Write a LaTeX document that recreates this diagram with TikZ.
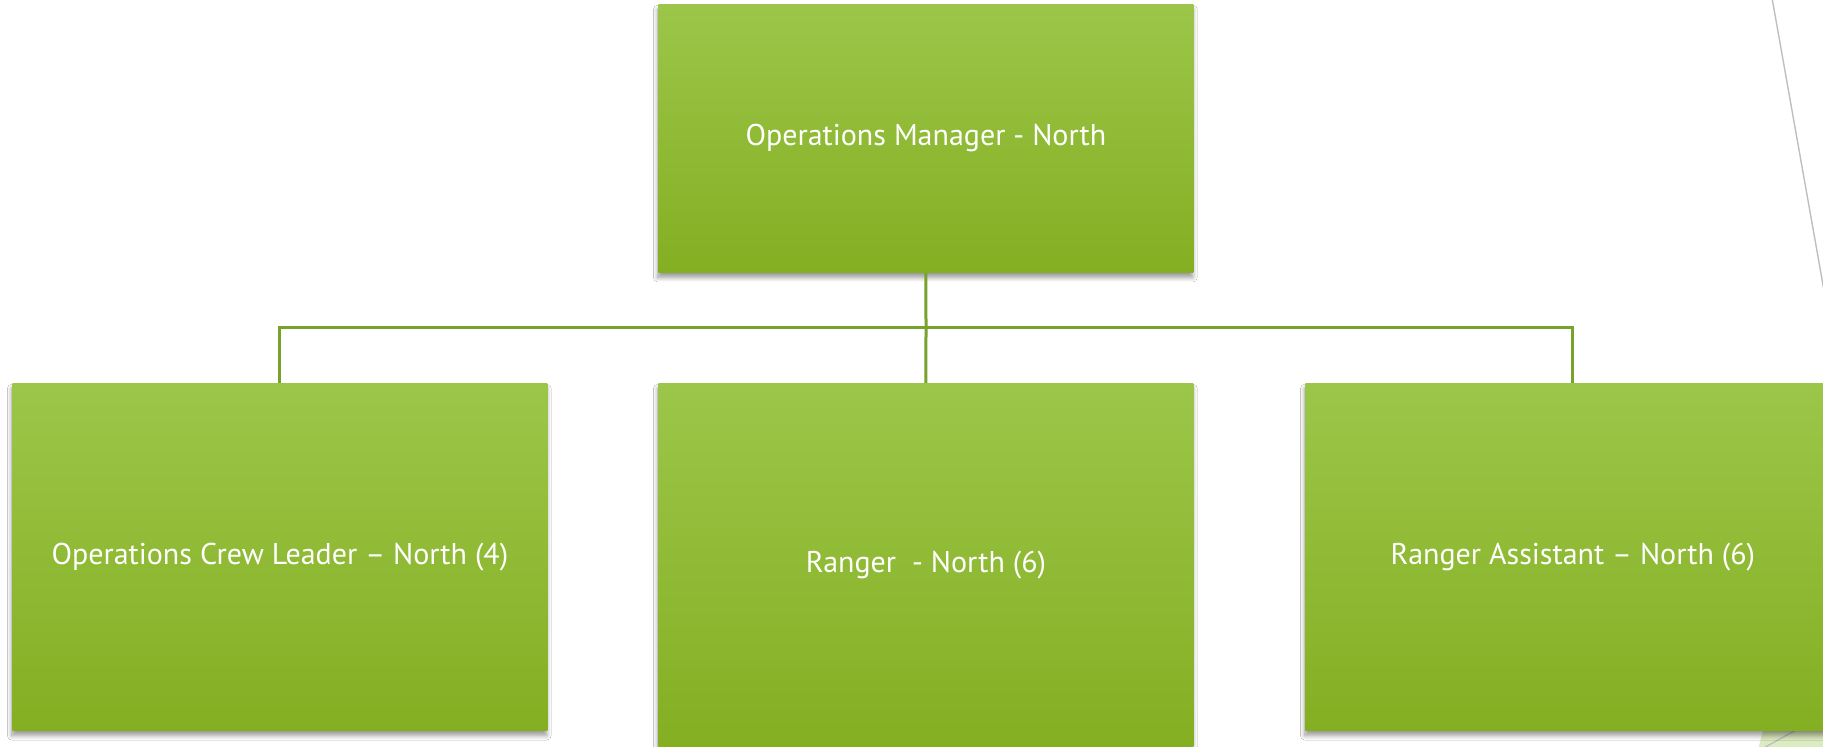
\documentclass[tikz,border=0pt]{standalone}
\usepackage{fontspec}
\setmainfont{PT Sans}
\usetikzlibrary{shadows.blur}
\definecolor{gtop}{HTML}{9CC649}
\definecolor{gbot}{HTML}{84AF22}
\definecolor{connc}{HTML}{77A22B}
\definecolor{deco}{HTML}{BFBFBF}
\definecolor{pale}{HTML}{DDEBC1}
\tikzset{
  orgbox/.style={draw=none, rectangle, inner sep=0pt, anchor=north west,
    top color=gtop, bottom color=gbot, minimum width=267.5pt,
    text=white, font=\fontsize{15}{18}\selectfont,
    blur shadow={shadow xshift=-0.3pt, shadow yshift=-2.6pt, shadow blur radius=2.2pt, shadow opacity=40, shadow blur steps=8}},
  conn/.style={draw=connc, line width=1.5pt},
  decoline/.style={draw=deco, line width=0.7pt}
}
\begin{document}
\begin{tikzpicture}[x=0.5pt, y=-0.5pt]
\useasboundingbox (0,0) rectangle (1823,747);
\clip (0,0) rectangle (1823,747);
\fill[white] (0,0) rectangle (1823,747);
% decorations of the theme
\draw[decoline] (1772,-2) -- (1831,330);
\fill[pale] (1758,750) -- (1778,670) -- (1830,670) -- (1830,750) -- cycle;
\draw[decoline] (1760,750) -- (1832,710);
% boxes
\node[orgbox, minimum height=134pt] (top) at (658,4) {Operations Manager - North};
\node[orgbox, minimum height=173.5pt] (left) at (12,383) {Operations Crew Leader – North (4)};
\node[orgbox, minimum height=181.5pt] (mid) at (658,383) {Ranger\ \ - North (6)};
\node[orgbox, minimum height=173.5pt] (right) at (1305,383) {Ranger Assistant – North (6)};
% connectors
\coordinate (bus) at (926,328);
\draw[conn] (top.south) -- (bus);
\draw[conn] (left.north) |- (bus) -| (right.north);
\draw[conn] (bus) -- (mid.north);
\end{tikzpicture}
\end{document}
